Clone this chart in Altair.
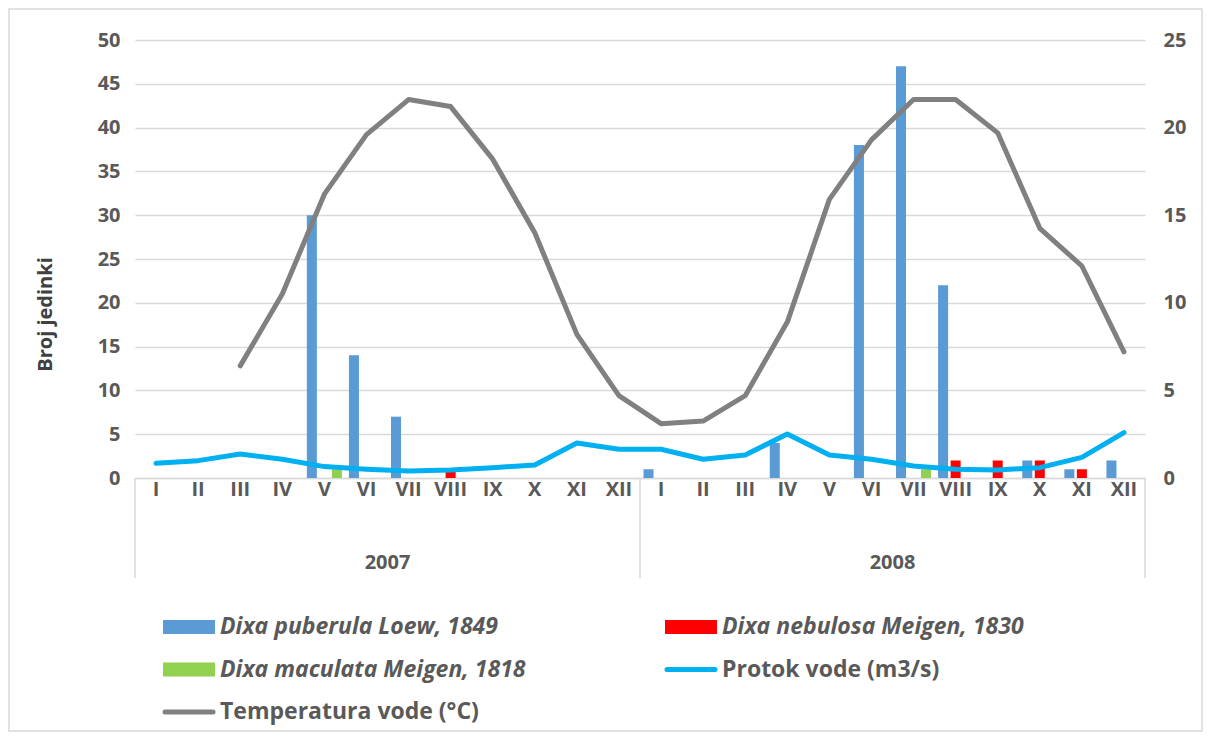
import altair as alt
import pandas as pd

FONT = "Open Sans, Roboto, sans-serif"
GRAY_TXT = "#595959"
GRID = "#d9d9d9"

months = ["I", "II", "III", "IV", "V", "VI", "VII", "VIII", "IX", "X", "XI", "XII"]
years = ["2007", "2008"]
keys = [f"{y}|{m}" for y in years for m in months]

species = ["Dixa puberula Loew, 1849", "Dixa nebulosa Meigen, 1830", "Dixa maculata Meigen, 1818"]
species_colors = ["#5B9BD5", "#FF0000", "#92D050"]

puberula = [0, 0, 0, 0, 30, 14, 7, 0, 0, 0, 0, 0,
            1, 0, 0, 4, 0, 38, 47, 22, 0, 2, 1, 2]
nebulosa = [0, 0, 0, 0, 0, 0, 0, 1, 0, 0, 0, 0,
            0, 0, 0, 0, 0, 0, 0, 2, 2, 2, 1, 0]
maculata = [0, 0, 0, 0, 1, 0, 0, 0, 0, 0, 0, 0,
            0, 0, 0, 0, 0, 0, 1, 0, 0, 0, 0, 0]

temperatura = [None, None, 6.4, 10.5, 16.2, 19.6, 21.6, 21.2, 18.2, 14.0, 8.2, 4.7,
               3.1, 3.25, 4.7, 8.9, 15.9, 19.3, 21.6, 21.6, 19.7, 14.25, 12.1, 7.2]
protok = [0.84, 0.99, 1.37, 1.07, 0.65, 0.5, 0.4, 0.46, 0.59, 0.74, 2.0, 1.64,
          1.64, 1.07, 1.31, 2.51, 1.31, 1.07, 0.68, 0.5, 0.46, 0.59, 1.18, 2.59]

line_names = ["Protok vode (m3/s)", "Temperatura vode (°C)"]
line_colors = ["#00B0F0", "#808080"]

# ---- tables
bar_rows = []
for sp, vals in zip(species, [puberula, nebulosa, maculata]):
    for k, v in zip(keys, vals):
        if v > 0:
            bar_rows.append({"key": k, "species": sp, "count": v})
bars_df = pd.DataFrame(bar_rows)

line_df = pd.DataFrame({"key": keys, "temp": temperatura, "protok": protok})
temp_df = line_df.dropna(subset=["temp"])

W, H = 1010, 438

x_axis = alt.Axis(
    title=None, labelExpr="split(datum.value, '|')[1]", labelAngle=0,
    labelFont=FONT, labelFontSize=20, labelFontWeight="bold", labelColor=GRAY_TXT,
    labelPadding=1, ticks=False, domain=True, domainColor=GRID, domainWidth=1.5,
    grid=False,
)
x_scale = alt.Scale(domain=keys, paddingInner=0, paddingOuter=0)


def X(**kw):
    return alt.X("key:N", scale=x_scale, axis=x_axis, sort=keys, **kw)


left_axis = alt.Axis(
    values=list(range(0, 51, 5)), grid=True, gridColor=GRID, gridWidth=1.5,
    domain=False, ticks=False, labelFont=FONT, labelFontSize=20,
    labelFontWeight="bold", labelColor=GRAY_TXT, labelPadding=15,
    title="Broj jedinki", titleFont=FONT, titleFontSize=20, titleFontWeight="bold",
    titleColor="#404040", titleX=-80, titleY=274, titleAngle=270,
)
right_axis = alt.Axis(
    orient="right", values=list(range(0, 26, 5)), grid=False, domain=False,
    ticks=False, labelFont=FONT, labelFontSize=20, labelFontWeight="bold",
    labelColor=GRAY_TXT, labelPadding=18, title=None,
)

bars = alt.Chart(bars_df).mark_bar().encode(
    x=X(),
    xOffset=alt.XOffset("species:N", sort=species,
                        scale=alt.Scale(domain=species, paddingInner=0.2, paddingOuter=0.28)),
    y=alt.Y("count:Q", scale=alt.Scale(domain=[0, 50]), axis=left_axis),
    color=alt.Color("species:N", scale=alt.Scale(domain=species, range=species_colors), legend=None),
)

right_scale = alt.Scale(domain=[0, 25])
protok_line = alt.Chart(line_df).mark_line(
    color=line_colors[0], strokeWidth=5, strokeCap="round", strokeJoin="round"
).encode(x=X(), y=alt.Y("protok:Q", scale=right_scale, axis=right_axis))
temp_line = alt.Chart(temp_df).mark_line(
    color=line_colors[1], strokeWidth=5, strokeCap="round", strokeJoin="round"
).encode(x=X(), y=alt.Y("temp:Q", scale=right_scale, axis=right_axis))
lines = alt.layer(protok_line, temp_line)

# year labels centred on each year's half of the axis
year_df = pd.DataFrame({"key": [f"{y}|VI" for y in years], "year": years})
year_text = alt.Chart(year_df).mark_text(
    font=FONT, fontSize=20, fontWeight="bold", color=GRAY_TXT, baseline="middle"
).encode(x=X(bandPosition=1), y=alt.value(H + 85), text="year:N")

# separators of the category box
sep_left_df = pd.DataFrame({"key": [f"{y}|I" for y in years]})
sep_right_df = pd.DataFrame({"key": [keys[-1]]})
sep_left = alt.Chart(sep_left_df).mark_rule(color=GRID, strokeWidth=1.5).encode(
    x=X(bandPosition=0), y=alt.value(H), y2=alt.value(H + 100))
sep_right = alt.Chart(sep_right_df).mark_rule(color=GRID, strokeWidth=1.5).encode(
    x=X(bandPosition=1), y=alt.value(H), y2=alt.value(H + 100))

# manual legend
one = pd.DataFrame({"a": [0]})
legend_items = [
    (species[0], species_colors[0], "bar", "italic"),
    (species[1], species_colors[1], "bar", "italic"),
    (species[2], species_colors[2], "bar", "italic"),
    (line_names[0], line_colors[0], "line", "normal"),
    (line_names[1], line_colors[1], "line", "normal"),
]
legend_layers = []
for i, (name, col, kind, style) in enumerate(legend_items):
    cx = 28 + (i % 2) * 502
    cy = 587 + (i // 2) * 42.5
    if kind == "bar":
        sw = alt.Chart(one).mark_rect(color=col).encode(
            x=alt.value(cx), x2=alt.value(cx + 52), y=alt.value(cy - 7), y2=alt.value(cy + 7))
    else:
        sw = alt.Chart(one).mark_rule(color=col, strokeWidth=5, strokeCap="round").encode(
            x=alt.value(cx + 2), x2=alt.value(cx + 50), y=alt.value(cy))
    tx = alt.Chart(one).mark_text(
        align="left", baseline="middle", font=FONT, fontSize=23, fontWeight="bold",
        fontStyle=style, color=GRAY_TXT,
    ).encode(x=alt.value(cx + 57), y=alt.value(cy), text=alt.value(name))
    legend_layers += [sw, tx]

border = alt.Chart(one).mark_rect(fill=None, stroke=GRID, strokeWidth=1.5).encode(
    x=alt.value(-126), x2=alt.value(W + 57), y=alt.value(-31), y2=alt.value(H + 253))

chart = alt.layer(
    border, bars, lines, sep_left, sep_right, year_text, *legend_layers
).resolve_scale(y="independent").properties(
    width=W, height=H,
    autosize=alt.AutoSizeParams(type="none"),
    padding={"left": 127, "top": 32, "right": 58, "bottom": 254},
    background="white",
).configure_view(stroke=None)

chart.save("out.html", embed_options={"renderer": "svg", "actions": False})
